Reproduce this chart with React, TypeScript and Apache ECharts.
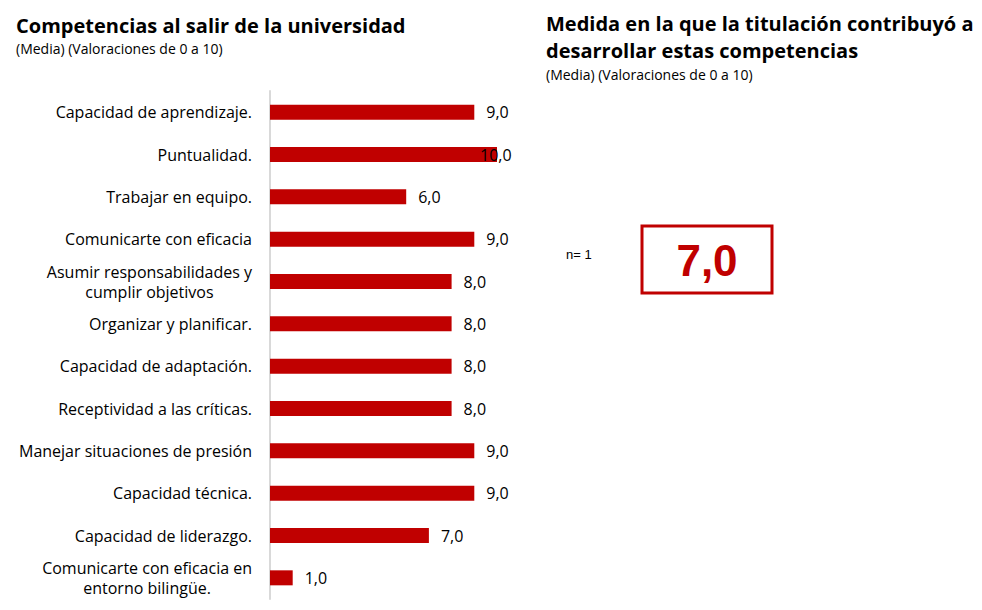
import React, { useEffect, useRef } from "react";
import * as echarts from "echarts";

const categories = [
  "Capacidad de aprendizaje.",
  "Puntualidad.",
  "Trabajar en equipo.",
  "Comunicarte con eficacia",
  "Asumir responsabilidades y\ncumplir objetivos",
  "Organizar y planificar.",
  "Capacidad de adaptación.",
  "Receptividad a las críticas.",
  "Manejar situaciones de presión",
  "Capacidad técnica.",
  "Capacidad de liderazgo.",
  "Comunicarte con eficacia en\nentorno bilingüe.",
];
const values = [9, 10, 6, 9, 8, 8, 8, 8, 9, 9, 7, 1];
const overallValue = 7.0;
const sampleSize = 1;

const leftTitle = "Competencias al salir de la universidad";
const rightTitleLines = ["Medida en la que la titulación contribuyó a", "desarrollar estas competencias"];
const subTitle = "(Media) (Valoraciones de 0 a 10)";

const RED = "#C00000";
const FONT = "'Open Sans', sans-serif";

export default function App() {
  const ref = useRef<HTMLDivElement>(null);
  useEffect(() => {
    if (!ref.current) return;
    const chart = echarts.init(ref.current, null, { renderer: "svg" });
    chart.setOption({
      animation: false,
      backgroundColor: "#ffffff",
      grid: { left: 262, top: 83, width: 227, height: 508, containLabel: false },
      xAxis: {
        type: "value",
        min: 0,
        max: 10,
        show: false,
      },
      yAxis: {
        type: "category",
        data: categories,
        inverse: true,
        axisLine: { show: true, lineStyle: { color: "#D9D9D9", width: 2 } },
        axisTick: { show: false },
        axisLabel: {
          fontFamily: FONT,
          fontSize: 16,
          color: "#000",
          align: "right",
          margin: 18,
          lineHeight: 20,
          formatter: (v: string) =>
            v.split("\n").map((l) => "{c|" + l + "}").join("\n"),
          rich: {
            c: { fontFamily: FONT, fontSize: 16, color: "#000", align: "center", lineHeight: 20 },
          },
        },
      },
      series: [
        {
          type: "bar",
          data: values.map((v) =>
            v === 10
              ? { value: v, label: { offset: [-29, 0] } }
              : { value: v }
          ),
          barWidth: 15,
          itemStyle: { color: RED },
          label: {
            show: true,
            position: "right",
            distance: 12,
            fontFamily: FONT,
            fontSize: 16,
            color: "#000",
            formatter: (p: any) => Number(p.value).toFixed(1).replace(".", ","),
          },
        },
      ],
      graphic: [
        {
          type: "text",
          x: 8,
          y: 17,
          style: {
            text: leftTitle,
            fontFamily: FONT,
            fontSize: 20,
            fontWeight: "bold",
            fill: "#000",
            align: "left",
            verticalAlign: "middle",
          },
        },
        {
          type: "text",
          x: 8,
          y: 40,
          style: {
            text: subTitle,
            fontFamily: FONT,
            fontSize: 14,
            fill: "#000",
            align: "left",
            verticalAlign: "middle",
          },
        },
        ...rightTitleLines.map((t, i) => ({
          type: "text",
          x: 538,
          y: 15 + i * 27,
          style: {
            text: t,
            fontFamily: FONT,
            fontSize: 20,
            fontWeight: "bold",
            fill: "#000",
            align: "left",
            verticalAlign: "middle",
          },
        })),
        {
          type: "text",
          x: 538,
          y: 66,
          style: {
            text: subTitle,
            fontFamily: FONT,
            fontSize: 14,
            fill: "#000",
            align: "left",
            verticalAlign: "middle",
          },
        },
        {
          type: "rect",
          shape: { x: 634, y: 218, width: 130, height: 67 },
          style: { fill: "#fff", stroke: RED, lineWidth: 3 },
        },
        {
          type: "text",
          x: 699,
          y: 252,
          style: {
            text: overallValue.toFixed(1).replace(".", ","),
            fontFamily: "'Liberation Sans', Arial, sans-serif",
            fontSize: 44,
            fontWeight: "bold",
            fill: RED,
            align: "center",
            verticalAlign: "middle",
          },
        },
        {
          type: "text",
          x: 558,
          y: 246,
          style: {
            text: "n= " + sampleSize,
            fontFamily: "'Liberation Sans', Arial, sans-serif",
            fontSize: 13,
            fill: "#000",
            align: "left",
            verticalAlign: "middle",
          },
        },
      ],
    });
    return () => chart.dispose();
  }, []);
  return <div ref={ref} style={{ width: 966, height: 594 }} />;
}
